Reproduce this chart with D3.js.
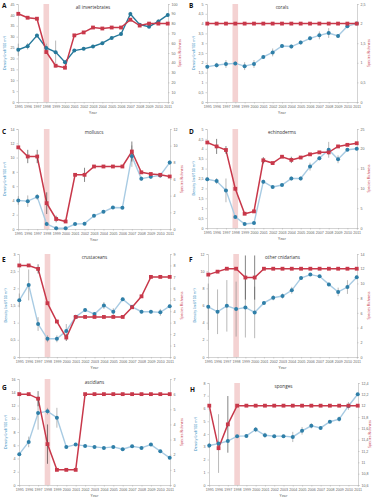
<!DOCTYPE html>
<html>
<head>
<meta charset="utf-8">
<script src="https://cdn.jsdelivr.net/npm/d3@7"></script>
<style>
  body { margin: 0; background: #fff; }
  svg { font-family: "Open Sans", "Liberation Sans", sans-serif; }
</style>
</head>
<body>
<div id="chart"></div>
<script>
// ---- data ----
var years = [1995, 1996, 1997, 1998, 1999, 2000, 2001, 2002, 2003, 2004, 2005, 2006, 2007, 2008, 2009, 2010, 2011];
var bleachYear = 1998;

var letters = ["A", "B", "C", "D", "E", "F", "G", "H"];
var titles = ["all invertebrates", "corals", "molluscs", "echinoderms", "crustaceans", "other cnidarians", "ascidians", "sponges"];

// density (left axis) and species richness (right axis), with error bars
var densA = [24, 25.6, 30.5, 24.8, 22.9, 18.3, 23.6, 24.4, 25.5, 27, 29.4, 31.2, 40.4, 35.5, 34.6, 37, 40];
var densErrA = [2.8, 1.5, 0.8, 2, 5.3, 1, 0.5, 0.5, 0.5, 0.6, 0.6, 0.8, 1, 0.6, 0.6, 1, 0.8];
var richA = [90, 86, 85, 51, 37, 35, 68, 71, 76, 75, 76, 76, 84, 78, 80, 80, 80];
var richErrA = [1, 1, 1, 2, 1.5, 1.5, 1, 1, 1, 1, 1, 1, 1.5, 1, 1, 1, 1];

var densB = [1.8, 1.88, 1.94, 1.97, 1.83, 1.94, 2.3, 2.53, 2.86, 2.83, 3.03, 3.25, 3.4, 3.52, 3.37, 3.87, 4.0];
var densErrB = [0.1, 0.12, 0.2, 0.1, 0.2, 0.2, 0.1, 0.2, 0.1, 0.1, 0.1, 0.1, 0.2, 0.25, 0.1, 0.05, 0.05];
var richB = [2, 2, 2, 2, 2, 2, 2, 2, 2, 2, 2, 2, 2, 2, 2, 2, 2];
var richErrB = [0, 0, 0, 0, 0, 0, 0, 0, 0, 0, 0, 0, 0, 0, 0, 0, 0];

var densC = [4.0, 3.9, 4.5, 0.7, 0.1, 0.1, 0.7, 0.75, 1.85, 2.4, 3.0, 2.97, 10.2, 7.05, 7.3, 7.5, 9.3];
var densErrC = [0.6, 0.8, 0.4, 0.2, 0.05, 0.05, 0.1, 0.1, 0.1, 0.1, 0.1, 0.1, 1.5, 0.3, 0.3, 0.3, 0.3];
var richC = [9.8, 8.7, 8.7, 3.1, 1.2, 0.9, 6.5, 6.5, 7.5, 7.5, 7.5, 7.5, 9.3, 6.8, 6.6, 6.5, 6.3];
var richErrC = [0, 0.8, 0.8, 1.3, 0.4, 0, 0, 0.85, 0, 0, 0, 0, 1.2, 0, 0, 0, 0];

var densD = [2.46, 2.37, 1.9, 0.56, 0.2, 0.25, 2.34, 2.07, 2.17, 2.5, 2.5, 3.1, 3.52, 3.95, 3.47, 3.95, 4.0];
var densErrD = [0.1, 0.15, 0.6, 0.05, 0.05, 0.05, 0.1, 0.05, 0.05, 0.1, 0.1, 0.2, 0.1, 0.4, 0.2, 0.05, 0.05];
var richD = [21.6, 20.6, 19.7, 9.9, 3.6, 4.2, 17.1, 16.4, 18, 17.2, 17.8, 18.6, 19.1, 19.1, 20.6, 21, 21.4];
var richErrD = [0, 1.9, 1, 0, 0, 0, 0.8, 0, 0, 0.8, 0, 0, 0, 0.5, 0, 0, 0];

var densE = [1.65, 2.1, 0.96, 0.53, 0.53, 0.76, 1.17, 1.37, 1.25, 1.5, 1.32, 1.68, 1.46, 1.32, 1.32, 1.3, 1.48];
var densErrE = [0.2, 0.45, 0.2, 0.1, 0.1, 0.2, 0.05, 0.05, 0.05, 0.1, 0.1, 0.05, 0.05, 0.05, 0.05, 0.1, 0.05];
var richE = [8, 8, 7.7, 4.7, 3.1, 1.7, 3.5, 3.5, 3.5, 3.5, 3.5, 3.5, 4.35, 5.3, 7, 7, 7];
var richErrE = [0, 0, 0.4, 0, 0, 0.3, 0, 0, 0, 0, 0, 0, 0, 0, 0, 0, 0];

var densF = [5.85, 5.27, 5.96, 5.58, 5.77, 5.19, 6.3, 6.9, 7.1, 7.77, 9.2, 9.6, 9.4, 8.46, 7.58, 8.15, 9.3];
var densErrF = [2.7, 2.6, 3, 3.2, 3.5, 3, 0.2, 0.3, 0.3, 0.4, 0.2, 0.1, 0.1, 0.2, 0.5, 0.8, 0.2];
var richF = [11.2, 11.6, 12, 12, 10.8, 10.8, 12, 12, 12, 12, 12, 12, 12, 12, 12, 12, 12];
var richErrF = [0, 0, 0, 0, 3, 3, 0, 0, 0, 0, 0, 0, 0, 0, 0, 0, 0];

var densG = [4.65, 6.5, 10.85, 11.15, 10.15, 5.75, 6.1, 5.9, 5.75, 5.6, 5.75, 5.4, 5.85, 5.6, 6.1, 5.1, 4.1];
var densErrG = [0.2, 0.8, 2.5, 0.5, 1.5, 0.2, 0.2, 0.1, 0.1, 0.1, 0.1, 0.1, 0.1, 0.1, 0.1, 0.1, 0.1];
var richG = [6, 6, 5.7, 2.7, 1, 1, 1, 6, 6, 6, 6, 6, 6, 6, 6, 6, 6];
var richErrG = [0, 0, 0.5, 1.3, 0, 0, 0, 0, 0, 0, 0, 0, 0, 0, 0, 0, 0];

var densH = [3.1, 3.25, 3.45, 3.83, 3.85, 4.35, 3.9, 3.83, 3.83, 3.77, 4.25, 4.64, 4.48, 4.96, 5.17, 6.2, 7.12];
var densErrH = [0.2, 2.3, 0.1, 0.1, 0.1, 0.2, 0.2, 0.1, 0.1, 0.4, 0.3, 0.2, 0.1, 0.1, 0.2, 0.3, 0.1];
var richH = [12, 11.25, 11.67, 12, 12, 12, 12, 12, 12, 12, 12, 12, 12, 12, 12, 12, 12];
var richErrH = [0, 0, 0.5, 0, 0, 0, 0, 0, 0, 0, 0, 0, 0, 0, 0, 0, 0];

// axis ticks
var leftTicksA = [0, 5, 10, 15, 20, 25, 30, 35, 40, 45];
var rightTicksA = [0, 10, 20, 30, 40, 50, 60, 70, 80, 90, 100];
var leftTicksB = [0, 0.5, 1, 1.5, 2, 2.5, 3, 3.5, 4, 4.5, 5];
var rightTicksB = [0, 0.5, 1, 1.5, 2, 2.5];
var leftTicksC = [0, 2, 4, 6, 8, 10, 12, 14];
var rightTicksC = [0, 2, 4, 6, 8, 10, 12];
var leftTicksD = [0, 0.5, 1, 1.5, 2, 2.5, 3, 3.5, 4, 4.5, 5];
var rightTicksD = [0, 5, 10, 15, 20, 25];
var leftTicksE = [0, 0.5, 1, 1.5, 2, 2.5, 3];
var rightTicksE = [0, 1, 2, 3, 4, 5, 6, 7, 8, 9];
var leftTicksF = [0, 2, 4, 6, 8, 10, 12];
var rightTicksF = [0, 2, 4, 6, 8, 10, 12, 14];
var leftTicksG = [0, 2, 4, 6, 8, 10, 12, 14, 16];
var rightTicksG = [0, 1, 2, 3, 4, 5, 6, 7];
var leftTicksH = [0, 1, 2, 3, 4, 5, 6, 7, 8];
var rightTicksH = [10.6, 10.8, 11, 11.2, 11.4, 11.6, 11.8, 12, 12.2, 12.4];

var panels = [
  { dens: densA, densErr: densErrA, rich: richA, richErr: richErrA, lt: leftTicksA, rt: rightTicksA },
  { dens: densB, densErr: densErrB, rich: richB, richErr: richErrB, lt: leftTicksB, rt: rightTicksB },
  { dens: densC, densErr: densErrC, rich: richC, richErr: richErrC, lt: leftTicksC, rt: rightTicksC },
  { dens: densD, densErr: densErrD, rich: richD, richErr: richErrD, lt: leftTicksD, rt: rightTicksD },
  { dens: densE, densErr: densErrE, rich: richE, richErr: richErrE, lt: leftTicksE, rt: rightTicksE },
  { dens: densF, densErr: densErrF, rich: richF, richErr: richErrF, lt: leftTicksF, rt: rightTicksF },
  { dens: densG, densErr: densErrG, rich: richG, richErr: richErrG, lt: leftTicksG, rt: rightTicksG },
  { dens: densH, densErr: densErrH, rich: richH, richErr: richErrH, lt: leftTicksH, rt: rightTicksH }
];

// plot boxes in page pixels: left, right, top, bottom
var boxes = [
  [18, 168, 4, 102], [207, 357, 4, 102],
  [18, 170, 129, 229], [207, 357, 129, 228],
  [19, 170, 254, 357], [208, 357, 254, 357],
  [19, 170, 379, 485], [209, 358, 383, 485]
];
// panel letter position (page x, baseline y)
var letterPos = [[2, 8], [189, 8], [2, 134], [189, 134], [2, 262], [189, 262], [2, 390], [190, 392]];

var red = "#c8384a";
var blueDark = "#25789a";
var blueLight = "#a8cbe3";
var blueMark = "#2f7fa8";

var svg = d3.select("#chart").append("svg")
    .attr("width", 375)
    .attr("height", 500);

function fmt(v) { return String(v).replace(".", ","); }

function drawPanel(i) {
  var p = panels[i];
  var b = boxes[i];
  var w = b[1] - b[0], h = b[3] - b[2];
  var g = svg.append("g").attr("transform", "translate(" + b[0] + "," + b[2] + ")");

  var x = d3.scalePoint().domain(years).range([0, w]).padding(0.03);
  var yL = d3.scaleLinear().domain([p.lt[0], p.lt[p.lt.length - 1]]).range([h, 0]);
  var yR = d3.scaleLinear().domain([p.rt[0], p.rt[p.rt.length - 1]]).range([h, 0]);

  // bleaching band
  g.append("rect")
    .attr("x", x(bleachYear) - 2.8)
    .attr("y", 0)
    .attr("width", 5.6)
    .attr("height", h)
    .attr("fill", "#f4d2d2");

  // axes
  var axL = g.append("g").call(d3.axisLeft(yL).tickValues(p.lt).tickSize(1.5).tickPadding(2).tickFormat(fmt));
  var axR = g.append("g").attr("transform", "translate(" + w + ",0)")
    .call(d3.axisRight(yR).tickValues(p.rt).tickSize(1.5).tickPadding(2).tickFormat(fmt));
  var axB = g.append("g").attr("transform", "translate(0," + h + ")")
    .call(d3.axisBottom(x).tickSize(1.5).tickPadding(2));
  [axL, axR, axB].forEach(function(a) {
    a.selectAll("path, line").attr("stroke", "#b5b5b5").attr("stroke-width", 0.6);
    a.selectAll("text").attr("fill", "#666").style("font-size", "3.6px");
  });

  var isA = (i === 0);
  var densLine = d3.line().x(function(d, k) { return x(years[k]); }).y(function(d) { return yL(d); });
  var richLine = d3.line().x(function(d, k) { return x(years[k]); }).y(function(d) { return yR(d); });

  // density line
  g.append("path")
    .datum(p.dens)
    .attr("d", densLine)
    .attr("fill", "none")
    .attr("stroke", isA ? blueDark : blueLight)
    .attr("stroke-width", 1.4);

  // species richness line
  g.append("path")
    .datum(p.rich)
    .attr("d", richLine)
    .attr("fill", "none")
    .attr("stroke", red)
    .attr("stroke-width", 1.5);

  // error bars
  g.selectAll(".errD").data(p.dens).enter().append("line")
    .attr("x1", function(d, k) { return x(years[k]); })
    .attr("x2", function(d, k) { return x(years[k]); })
    .attr("y1", function(d, k) { return yL(d - p.densErr[k]); })
    .attr("y2", function(d, k) { return yL(d + p.densErr[k]); })
    .attr("stroke", "#8a8a8a").attr("stroke-width", 0.6);
  g.selectAll(".errR").data(p.rich).enter().append("line")
    .attr("x1", function(d, k) { return x(years[k]); })
    .attr("x2", function(d, k) { return x(years[k]); })
    .attr("y1", function(d, k) { return yR(d - p.richErr[k]); })
    .attr("y2", function(d, k) { return yR(d + p.richErr[k]); })
    .attr("stroke", "#333").attr("stroke-width", 0.6);

  // markers
  g.selectAll(".dot").data(p.dens).enter().append("circle")
    .attr("cx", function(d, k) { return x(years[k]); })
    .attr("cy", function(d) { return yL(d); })
    .attr("r", 2)
    .attr("fill", isA ? blueDark : blueMark);
  g.selectAll(".sq").data(p.rich).enter().append("rect")
    .attr("x", function(d, k) { return x(years[k]) - 1.9; })
    .attr("y", function(d) { return yR(d) - 1.9; })
    .attr("width", 3.8).attr("height", 3.8)
    .attr("fill", red);

  // labels
  g.append("text")
    .attr("x", w / 2).attr("y", 5)
    .attr("text-anchor", "middle")
    .style("font-size", "4.6px").attr("fill", "#333")
    .text(titles[i]);
  g.append("text")
    .attr("x", w / 2).attr("y", h + 12)
    .attr("text-anchor", "middle")
    .style("font-size", "3.8px").attr("fill", "#555")
    .text("Year");
  g.append("text")
    .attr("transform", "translate(-12," + (h / 2) + ") rotate(-90)")
    .attr("text-anchor", "middle")
    .style("font-size", "3.6px").attr("fill", "#3a8fbf")
    .text("Density (ind/100 m²)");
  g.append("text")
    .attr("transform", "translate(" + (w + 13) + "," + (h / 2) + ") rotate(-90)")
    .attr("text-anchor", "middle")
    .style("font-size", "3.6px").attr("fill", red)
    .text("Species Richness");

  svg.append("text")
    .attr("x", letterPos[i][0]).attr("y", letterPos[i][1])
    .style("font-size", "6.5px").style("font-weight", "bold").attr("fill", "#111")
    .text(letters[i]);
}

for (var i = 0; i < panels.length; i++) {
  drawPanel(i);
}
</script>
</body>
</html>
